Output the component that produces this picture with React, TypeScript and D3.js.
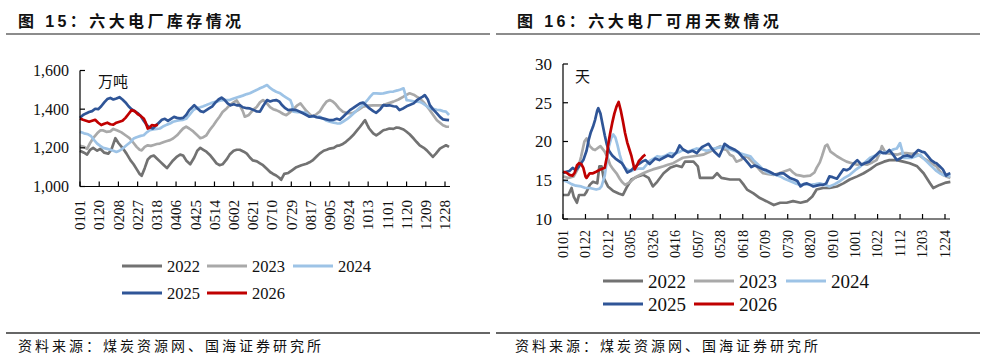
import React from 'react';
import * as d3 from 'd3';

const serif = '"Liberation Serif", "Times New Roman", serif';
const cjk = '"Noto Sans CJK SC", "Noto Sans CJK JP", sans-serif';

const years = ['2022', '2023', '2024', '2025', '2026'];
const colors = ['#727272', '#a9a9a9', '#9dc3e6', '#2f5597', '#c00000'];

// x tick labels (MMDD)
const stockTicks = ['0101', '0120', '0208', '0227', '0318', '0406', '0425', '0514', '0602', '0621',
  '0710', '0729', '0817', '0905', '0924', '1013', '1101', '1120', '1209', '1228'];
const daysTicks = ['0101', '0122', '0212', '0305', '0326', '0416', '0507', '0528', '0618', '0709',
  '0730', '0820', '0910', '1001', '1022', '1112', '1203', '1224'];

const stockYTicks = [1000, 1200, 1400, 1600];
const daysYTicks = [10, 15, 20, 25, 30];

// 六大电厂库存 (万吨), [day of year, value]
const stock2022 = [[0,1185],[4,1175],[7,1165],[10,1190],[13,1200],[17,1185],[20,1195],[24,1175],[28,1170],[31,1190],[35,1250],[38,1225],[42,1200],[46,1170],[50,1135],[53,1115],[56,1090],[59,1065],[61,1055],[64,1095],[67,1140],[70,1155],[73,1160],[76,1145],[79,1130],[83,1110],[86,1095],[89,1115],[92,1135],[96,1155],[99,1165],[102,1160],[105,1135],[109,1115],[113,1150],[116,1185],[119,1200],[122,1190],[125,1180],[129,1160],[132,1140],[135,1120],[138,1110],[141,1115],[145,1140],[148,1165],[152,1185],[155,1190],[158,1190],[162,1180],[165,1170],[168,1150],[171,1135],[175,1130],[178,1120],[181,1110],[185,1090],[188,1075],[191,1065],[194,1057],[197,1045],[199,1035],[202,1065],[206,1070],[210,1085],[214,1100],[219,1110],[224,1118],[227,1125],[230,1135],[234,1155],[237,1170],[241,1185],[244,1190],[247,1196],[251,1200],[254,1210],[257,1213],[260,1220],[263,1231],[267,1250],[270,1265],[274,1290],[277,1309],[280,1330],[282,1343],[284,1320],[286,1300],[290,1275],[293,1265],[296,1275],[300,1291],[303,1295],[306,1300],[310,1298],[313,1305],[316,1303],[320,1295],[323,1283],[326,1270],[330,1248],[333,1230],[336,1213],[340,1200],[343,1187],[346,1170],[349,1153],[352,1170],[356,1196],[359,1205],[362,1213],[365,1205]];
const stock2023 = [[0,1210],[4,1205],[7,1195],[10,1225],[13,1250],[17,1275],[20,1290],[23,1290],[26,1283],[30,1285],[33,1298],[37,1290],[41,1280],[45,1265],[49,1250],[53,1225],[56,1205],[59,1190],[61,1187],[64,1205],[67,1213],[70,1210],[73,1215],[76,1220],[79,1222],[83,1230],[86,1235],[89,1240],[92,1248],[96,1265],[99,1283],[102,1300],[105,1310],[108,1300],[112,1285],[116,1265],[119,1250],[122,1255],[125,1265],[128,1290],[132,1317],[135,1340],[138,1361],[141,1385],[145,1404],[148,1420],[152,1435],[155,1445],[158,1420],[161,1390],[163,1361],[167,1370],[171,1395],[175,1413],[178,1435],[181,1447],[184,1435],[188,1410],[191,1400],[194,1395],[198,1385],[201,1375],[204,1369],[208,1385],[211,1400],[215,1420],[218,1430],[221,1410],[224,1390],[227,1375],[230,1361],[234,1375],[237,1387],[241,1420],[244,1440],[247,1447],[250,1440],[253,1425],[256,1405],[260,1387],[264,1380],[270,1380],[275,1395],[280,1413],[285,1418],[290,1420],[295,1420],[300,1421],[305,1430],[310,1439],[315,1450],[320,1465],[323,1475],[326,1482],[330,1475],[333,1465],[336,1456],[340,1435],[343,1415],[346,1395],[350,1365],[353,1343],[356,1330],[359,1317],[362,1310],[365,1309]];
const stock2024 = [[0,1283],[4,1275],[8,1270],[11,1260],[14,1240],[17,1222],[20,1210],[23,1200],[26,1196],[30,1190],[33,1185],[36,1179],[39,1185],[43,1200],[46,1213],[50,1230],[53,1248],[56,1255],[60,1262],[63,1265],[66,1280],[69,1291],[72,1295],[76,1298],[79,1300],[82,1310],[86,1320],[89,1326],[92,1335],[96,1340],[99,1343],[102,1345],[105,1350],[109,1375],[112,1395],[115,1404],[119,1410],[122,1415],[125,1421],[129,1430],[132,1435],[135,1439],[139,1445],[142,1447],[145,1447],[148,1447],[152,1455],[155,1460],[158,1465],[161,1470],[165,1478],[168,1482],[171,1490],[175,1500],[178,1508],[181,1515],[185,1525],[188,1510],[191,1499],[194,1490],[198,1482],[201,1470],[204,1460],[208,1447],[210,1420],[211,1387],[215,1385],[219,1385],[222,1383],[224,1380],[227,1361],[231,1362],[234,1360],[237,1361],[241,1350],[244,1340],[247,1335],[251,1330],[254,1327],[257,1326],[260,1335],[264,1348],[267,1361],[271,1380],[274,1395],[277,1410],[280,1421],[284,1445],[287,1465],[290,1482],[293,1482],[297,1480],[300,1482],[304,1487],[307,1490],[310,1491],[314,1497],[317,1502],[320,1508],[321,1490],[323,1447],[326,1445],[330,1440],[333,1439],[336,1438],[339,1430],[343,1415],[346,1404],[350,1400],[353,1397],[356,1395],[359,1390],[362,1387],[365,1370]];
const stock2025 = [[0,1355],[3,1370],[6,1378],[9,1385],[12,1390],[15,1402],[18,1400],[21,1415],[24,1435],[27,1452],[30,1458],[33,1450],[36,1455],[39,1462],[42,1450],[45,1435],[48,1415],[51,1400],[54,1390],[57,1380],[60,1365],[63,1340],[66,1318],[69,1305],[72,1300],[75,1315],[78,1330],[81,1345],[84,1350],[87,1340],[90,1350],[93,1360],[96,1355],[99,1352],[102,1355],[105,1370],[108,1395],[111,1410],[113,1421],[116,1405],[119,1390],[122,1385],[125,1395],[128,1405],[131,1415],[134,1435],[137,1450],[140,1460],[143,1448],[146,1430],[149,1420],[152,1425],[155,1420],[158,1421],[161,1410],[165,1405],[168,1404],[172,1395],[175,1388],[178,1387],[181,1415],[185,1447],[188,1440],[191,1445],[194,1447],[197,1440],[200,1420],[203,1405],[206,1395],[210,1398],[214,1395],[218,1385],[222,1375],[227,1361],[231,1365],[234,1358],[238,1355],[242,1350],[247,1343],[251,1345],[254,1350],[257,1345],[260,1360],[263,1375],[267,1395],[270,1405],[274,1420],[277,1430],[280,1434],[283,1420],[286,1405],[290,1390],[293,1381],[297,1400],[300,1421],[303,1418],[306,1420],[310,1415],[313,1413],[316,1395],[320,1405],[323,1415],[326,1421],[330,1430],[333,1445],[336,1456],[339,1465],[341,1473],[344,1450],[346,1421],[349,1400],[353,1378],[356,1360],[359,1347],[362,1345],[365,1343]];
const stock2026 = [[0,1352],[3,1345],[6,1340],[9,1335],[12,1340],[15,1345],[18,1330],[21,1318],[24,1325],[27,1330],[30,1322],[33,1320],[36,1330],[39,1335],[42,1340],[45,1355],[48,1375],[51,1395],[54,1390],[57,1375],[60,1365],[63,1352],[65,1330],[67,1300],[69,1305],[71,1317],[74,1315],[77,1320]];

// 六大电厂可用天数 (天), [day of year, value]
const days2022 = [[0,13.1],[5,13.1],[8,14.0],[10,12.9],[13,12.1],[15,13.1],[20,13.1],[22,13.5],[25,14.4],[28,14.8],[32,14.6],[34,16.8],[36,16.8],[38,15.3],[42,14.2],[47,13.6],[52,13.3],[56,13.1],[60,14.2],[64,15.1],[70,15.5],[75,15.7],[80,15.3],[84,14.2],[88,14.8],[94,15.9],[100,16.6],[106,16.9],[111,16.7],[114,17.4],[122,17.4],[126,16.8],[128,15.3],[140,15.3],[144,15.9],[148,15.3],[156,15.1],[165,15.1],[169,14.4],[172,13.8],[178,13.3],[184,12.7],[190,12.3],[197,11.8],[203,12.1],[209,12.1],[215,12.3],[222,12.1],[228,12.3],[233,12.9],[237,13.8],[243,14.0],[249,14.0],[256,14.2],[262,14.6],[268,15.1],[275,15.5],[281,15.9],[287,16.4],[293,17.0],[300,17.4],[305,17.6],[312,17.6],[318,17.4],[324,17.2],[331,16.8],[337,15.9],[343,14.6],[346,14.0],[352,14.4],[358,14.7],[362,14.8]];
const days2023 = [[0,15.5],[5,15.3],[10,15.5],[14,16.5],[17,18.1],[20,20.0],[22,20.4],[25,19.4],[28,19.0],[30,18.9],[33,19.2],[35,19.4],[39,18.7],[42,17.8],[44,17.0],[47,16.4],[50,15.9],[53,15.2],[55,14.8],[58,14.4],[63,14.8],[66,15.2],[69,15.5],[75,15.9],[80,16.2],[84,16.4],[89,16.6],[94,16.8],[98,17.0],[103,17.2],[108,17.6],[112,17.9],[117,18.0],[122,18.1],[127,18.2],[131,18.3],[136,18.6],[140,18.9],[144,19.2],[147,19.4],[150,19.0],[153,18.9],[156,18.3],[159,18.1],[162,17.4],[166,17.6],[169,17.9],[172,18.1],[176,17.5],[181,16.8],[184,16.3],[187,15.9],[192,15.8],[197,15.7],[202,15.9],[206,16.1],[212,16.4],[215,16.0],[218,15.7],[222,15.6],[225,15.5],[231,15.6],[235,16.0],[237,16.6],[240,17.3],[242,18.1],[245,19.4],[247,19.6],[250,18.7],[253,18.4],[256,18.1],[261,17.7],[265,17.4],[270,17.2],[275,17.0],[280,17.1],[284,17.0],[289,17.3],[293,17.6],[296,18.5],[298,19.4],[300,18.9],[302,18.5],[307,18.4],[312,18.3],[317,18.5],[321,18.5],[326,18.4],[330,18.5],[335,18.0],[340,17.6],[344,17.2],[349,16.8],[352,16.2],[355,15.7],[358,15.5],[362,15.3]];
const days2024 = [[0,15.0],[4,14.8],[8,14.5],[12,14.3],[17,14.2],[21,14.0],[25,14.0],[28,13.9],[31,13.8],[34,13.9],[36,14.2],[39,15.6],[41,17.5],[43,19.4],[45,20.4],[47,20.9],[49,20.5],[51,19.5],[53,18.3],[55,17.4],[57,16.7],[60,16.4],[64,16.2],[67,16.4],[70,16.5],[75,16.5],[78,17.0],[81,17.5],[85,17.8],[88,18.1],[92,18.0],[96,18.2],[100,18.5],[104,18.4],[108,18.6],[112,18.9],[117,18.7],[121,18.9],[125,19.1],[130,19.0],[134,18.8],[137,18.9],[141,19.1],[146,19.2],[150,19.4],[154,19.1],[158,18.9],[162,18.7],[165,18.5],[170,18.3],[175,18.1],[178,17.6],[181,17.2],[184,16.8],[187,16.4],[190,16.1],[193,15.9],[198,15.7],[203,15.5],[207,15.2],[212,14.9],[217,14.6],[222,14.4],[226,14.5],[231,14.4],[236,14.5],[240,14.6],[245,14.4],[249,14.2],[254,14.5],[259,14.9],[263,15.3],[268,15.7],[273,16.3],[278,16.8],[282,17.3],[287,17.9],[292,18.2],[296,18.5],[300,18.6],[305,18.7],[309,19.0],[312,19.1],[315,19.8],[317,18.8],[318,17.9],[322,17.9],[326,17.9],[330,18.1],[334,18.3],[337,17.8],[340,17.4],[343,17.0],[346,16.6],[349,16.2],[352,15.9],[355,15.7],[358,15.6],[362,15.5]];
const days2025 = [[0,15.9],[3,16.1],[6,16.2],[9,16.6],[12,16.3],[15,16.8],[19,17.6],[22,18.8],[24,20.2],[26,21.2],[28,21.9],[30,22.8],[32,24.0],[33,24.3],[35,23.6],[37,22.2],[39,20.8],[41,19.6],[43,18.8],[46,18.2],[49,17.8],[52,17.5],[55,17.2],[57,16.8],[60,16.0],[63,16.2],[66,16.6],[70,17.0],[74,17.4],[77,17.6],[81,17.1],[84,17.5],[86,17.8],[90,17.6],[94,17.9],[98,18.2],[102,18.0],[106,18.6],[109,19.5],[112,19.0],[117,18.6],[121,18.8],[125,18.5],[130,19.3],[133,19.5],[136,19.7],[139,19.1],[142,18.6],[146,18.1],[149,19.0],[151,19.7],[155,19.3],[158,19.1],[161,18.9],[164,18.6],[167,18.1],[170,17.7],[173,17.2],[176,16.7],[179,16.9],[181,16.8],[184,16.6],[187,16.4],[190,16.3],[193,16.1],[197,15.8],[200,15.7],[203,15.9],[206,15.9],[209,15.6],[212,15.3],[216,15.1],[219,14.9],[222,14.2],[225,14.5],[228,14.6],[231,14.4],[234,14.2],[237,14.3],[240,14.4],[243,14.4],[246,14.6],[249,15.5],[252,15.4],[256,15.2],[259,15.8],[262,16.4],[265,16.3],[268,16.5],[272,17.2],[275,17.6],[279,17.0],[282,17.2],[286,17.4],[290,17.9],[293,18.3],[296,18.7],[299,18.5],[302,18.5],[305,18.9],[309,18.2],[312,17.6],[315,17.8],[318,18.1],[322,18.2],[326,18.0],[329,18.5],[332,18.9],[335,18.7],[338,18.6],[341,18.1],[344,17.6],[347,17.3],[349,17.2],[352,16.8],[355,16.4],[358,15.6],[360,15.8],[362,15.9]];
const days2026 = [[0,16.1],[3,16.0],[6,15.7],[9,15.6],[11,16.0],[13,16.9],[15,17.2],[17,17.1],[19,16.6],[21,15.5],[22,15.3],[25,15.9],[28,15.9],[31,16.1],[35,16.4],[39,16.6],[41,18.0],[42,19.4],[44,21.0],[46,22.4],[48,23.6],[50,24.5],[52,25.1],[54,24.0],[56,22.6],[58,21.1],[60,19.9],[62,19.0],[64,18.1],[66,16.9],[67,16.4],[69,16.9],[71,17.5],[73,17.8],[75,18.1],[77,18.3]];

const stockSeries = [stock2022, stock2023, stock2024, stock2025, stock2026];
const daysSeries = [days2022, days2023, days2024, days2025, days2026];

const dayOfYear = (mmdd: string) =>
  d3.timeDay.count(new Date(2021, 0, 1), new Date(2021, +mmdd.slice(0, 2) - 1, +mmdd.slice(2)));

type PanelProps = {
  left: number;
  title: string;
  titleX: number;
  sourceX: number;
  unit: string;
  unitPos: [number, number];
  xRange: [number, number];
  xEnd: number;
  yDomain: [number, number];
  yRange: [number, number];
  yTicks: number[];
  yFormat: (v: number) => string;
  yFont: number;
  xTicks: string[];
  xLabelY: number;
  xFont: number;
  series: number[][][];
  legendCols: number[];
  legendRows: number[];
  legendFont: number;
};

function Panel(p: PanelProps) {
  const tickDays = p.xTicks.map(dayOfYear);
  const x = d3.scaleLinear()
    .domain([tickDays[0], tickDays[tickDays.length - 1]])
    .range(p.xRange);
  const y = d3.scaleLinear().domain(p.yDomain).range(p.yRange);
  const line = d3.line<number[]>()
    .x(d => x(d[0]))
    .y(d => y(d[1]));
  const x0 = p.xRange[0];
  const yBottom = p.yRange[0];
  const yTop = p.yRange[1];
  return (
    <g>
      <text x={p.titleX} y={27} fontFamily={'"Liberation Sans", ' + cjk} fontWeight="bold"
        fontSize={16} letterSpacing={3.4} fill="#111">{p.title}</text>
      <line x1={p.left + 6} x2={p.left + 490} y1={34} y2={34} stroke="#8c8c8c" strokeWidth={2} />

      {/* series */}
      {p.series.map((s, i) => (
        <path key={i} d={line(s) || ''} fill="none" stroke={colors[i]} strokeWidth={2.7}
          strokeLinejoin="round" />
      ))}

      {/* axes */}
      <line x1={x0} x2={x0} y1={yTop} y2={yBottom} stroke="#000" strokeWidth={1.2} />
      <line x1={x0} x2={p.xEnd} y1={yBottom} y2={yBottom} stroke="#000" strokeWidth={1.2} />
      {p.yTicks.map(t => (
        <g key={t}>
          <line x1={x0} x2={x0 + 5} y1={y(t)} y2={y(t)} stroke="#000" strokeWidth={1.2} />
          <text x={x0 - 11} y={y(t)} dy="0.35em" textAnchor="end" fontFamily={serif}
            fontSize={p.yFont} fill="#111">{p.yFormat(t)}</text>
        </g>
      ))}
      {tickDays.map((d, i) => (
        <g key={i}>
          <line x1={x(d)} x2={x(d)} y1={yBottom} y2={yBottom - 5} stroke="#000" strokeWidth={1.2} />
          <text transform={`translate(${x(d)},${p.xLabelY}) rotate(-90)`} dy="0.35em"
            textAnchor="end" fontFamily={serif} fontSize={p.xFont} fill="#111">{p.xTicks[i]}</text>
        </g>
      ))}
      <text x={p.unitPos[0]} y={p.unitPos[1]} dy="0.35em" fontFamily={cjk} fontSize={15}
        fill="#111">{p.unit}</text>

      {/* legend */}
      {years.map((yr, i) => {
        const cx = p.legendCols[i % 3];
        const cy = p.legendRows[Math.floor(i / 3)];
        return (
          <g key={yr}>
            <line x1={cx} x2={cx + 40} y1={cy} y2={cy} stroke={colors[i]} strokeWidth={3} />
            <text x={cx + 45} y={cy} dy="0.35em" fontFamily={serif} fontSize={p.legendFont}
              fill="#111">{yr}</text>
          </g>
        );
      })}

      <line x1={p.left + 6} x2={p.left + 490} y1={333} y2={333} stroke="#333" strokeWidth={1.5} />
      <text x={p.sourceX} y={351} fontFamily={cjk} fontSize={14} letterSpacing={3}
        fill="#111">资料来源：煤炭资源网、国海证券研究所</text>
    </g>
  );
}

export default function App() {
  const fmt = d3.format(',');
  return (
    <svg width={984} height={362} style={{ position: 'absolute', left: 0, top: 0, background: '#fff' }}>
      <Panel left={0} title="图 15：六大电厂库存情况" titleX={18} sourceX={18} unit="万吨" unitPos={[98, 82]}
        xRange={[80, 445]} xEnd={450} yDomain={[1000, 1600]} yRange={[186.5, 70.5]}
        yTicks={stockYTicks} yFormat={fmt} yFont={16} xTicks={stockTicks} xLabelY={200}
        xFont={15} series={stockSeries} legendCols={[122, 207, 293]} legendRows={[266, 293]}
        legendFont={16.5} />
      <Panel left={490} title="图 16：六大电厂可用天数情况" titleX={517} sourceX={515} unit="天" unitPos={[575, 77]}
        xRange={[563, 945]} xEnd={950} yDomain={[10, 30]} yRange={[219, 64]}
        yTicks={daysYTicks} yFormat={v => String(v)} yFont={17} xTicks={daysTicks} xLabelY={230}
        xFont={14} series={daysSeries} legendCols={[603, 694, 786]} legendRows={[281, 304]}
        legendFont={19} />
    </svg>
  );
}
